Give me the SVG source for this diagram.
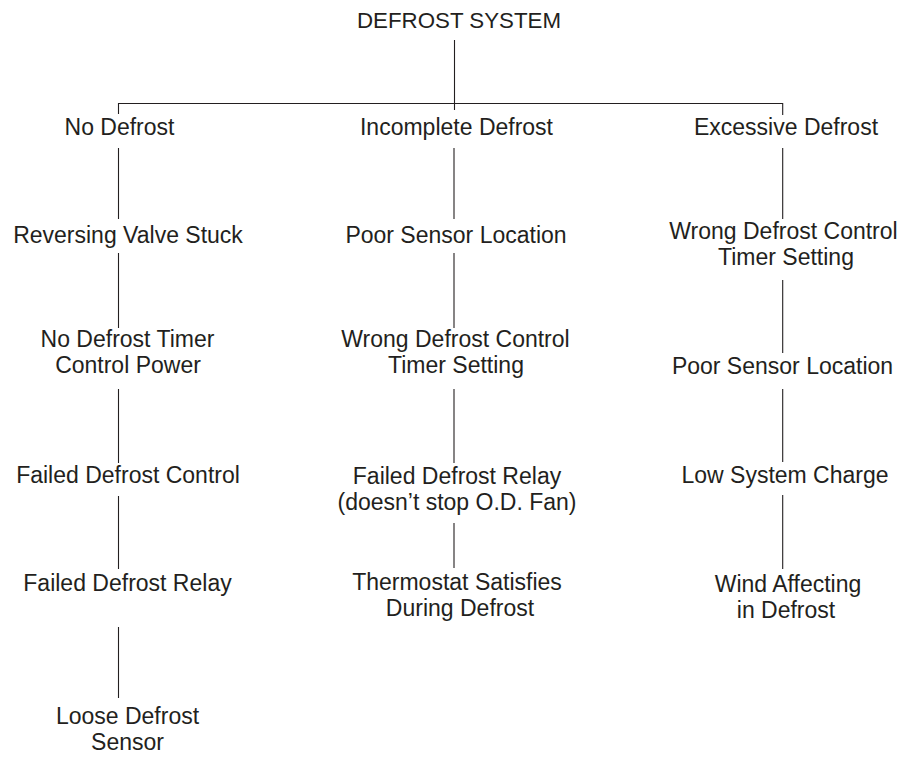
<svg xmlns="http://www.w3.org/2000/svg" width="904" height="757" viewBox="0 0 904 757">
<style>
text{font-family:"Liberation Sans",Arial,sans-serif;font-size:23px;fill:#231f20;text-anchor:middle}
.title{font-size:22.3px}
.c line,.c polyline{stroke:#231f20;stroke-width:1.1;fill:none}
</style>
<rect width="904" height="757" fill="#fff"/>
<g class="c" id="connectors">
<line x1="454.5" y1="40" x2="454.5" y2="110"/>
<polyline points="118.5,114 118.5,103.5 782.7,103.5 782.7,115"/>
<line x1="118.5" y1="148" x2="118.5" y2="219"/>
<line x1="118.5" y1="253" x2="118.5" y2="328"/>
<line x1="118.5" y1="389" x2="118.5" y2="463"/>
<line x1="118.5" y1="496" x2="118.5" y2="569"/>
<line x1="118.5" y1="627" x2="118.5" y2="698"/>
<line x1="454" y1="148" x2="454" y2="219"/>
<line x1="454" y1="253" x2="454" y2="328"/>
<line x1="454" y1="389" x2="454" y2="463"/>
<line x1="454" y1="523" x2="454" y2="568"/>
<line x1="782.7" y1="148" x2="782.7" y2="219"/>
<line x1="782.7" y1="280" x2="782.7" y2="353"/>
<line x1="782.7" y1="389" x2="782.7" y2="462"/>
<line x1="782.7" y1="495" x2="782.7" y2="569"/>
</g>
<g id="root"><text class="title" x="459" y="28">DEFROST SYSTEM</text></g>
<g id="no-defrost"><text x="119.5" y="135">No Defrost</text></g>
<g id="incomplete-defrost"><text x="456.5" y="135">Incomplete Defrost</text></g>
<g id="excessive-defrost"><text x="786" y="135">Excessive Defrost</text></g>
<g id="l1"><text x="128" y="243">Reversing Valve Stuck</text></g>
<g id="l2"><text x="127.5" y="347">No Defrost Timer</text><text x="128" y="373">Control Power</text></g>
<g id="l3"><text x="128" y="483">Failed Defrost Control</text></g>
<g id="l4"><text x="127.5" y="591">Failed Defrost Relay</text></g>
<g id="l5"><text x="127.5" y="724">Loose Defrost</text><text x="127.5" y="750">Sensor</text></g>
<g id="c1"><text x="456" y="243">Poor Sensor Location</text></g>
<g id="c2"><text x="455.5" y="347">Wrong Defrost Control</text><text x="456" y="373">Timer Setting</text></g>
<g id="c3"><text x="457" y="484">Failed Defrost Relay</text><text x="457" y="510">(doesn’t stop O.D. Fan)</text></g>
<g id="c4"><text x="457" y="590">Thermostat Satisfies</text><text x="460" y="616">During Defrost</text></g>
<g id="r1"><text x="783.5" y="239">Wrong Defrost Control</text><text x="786" y="265">Timer Setting</text></g>
<g id="r2"><text x="782.5" y="374">Poor Sensor Location</text></g>
<g id="r3"><text x="785" y="483">Low System Charge</text></g>
<g id="r4"><text x="788" y="592">Wind Affecting</text><text x="786" y="618">in Defrost</text></g>
</svg>
